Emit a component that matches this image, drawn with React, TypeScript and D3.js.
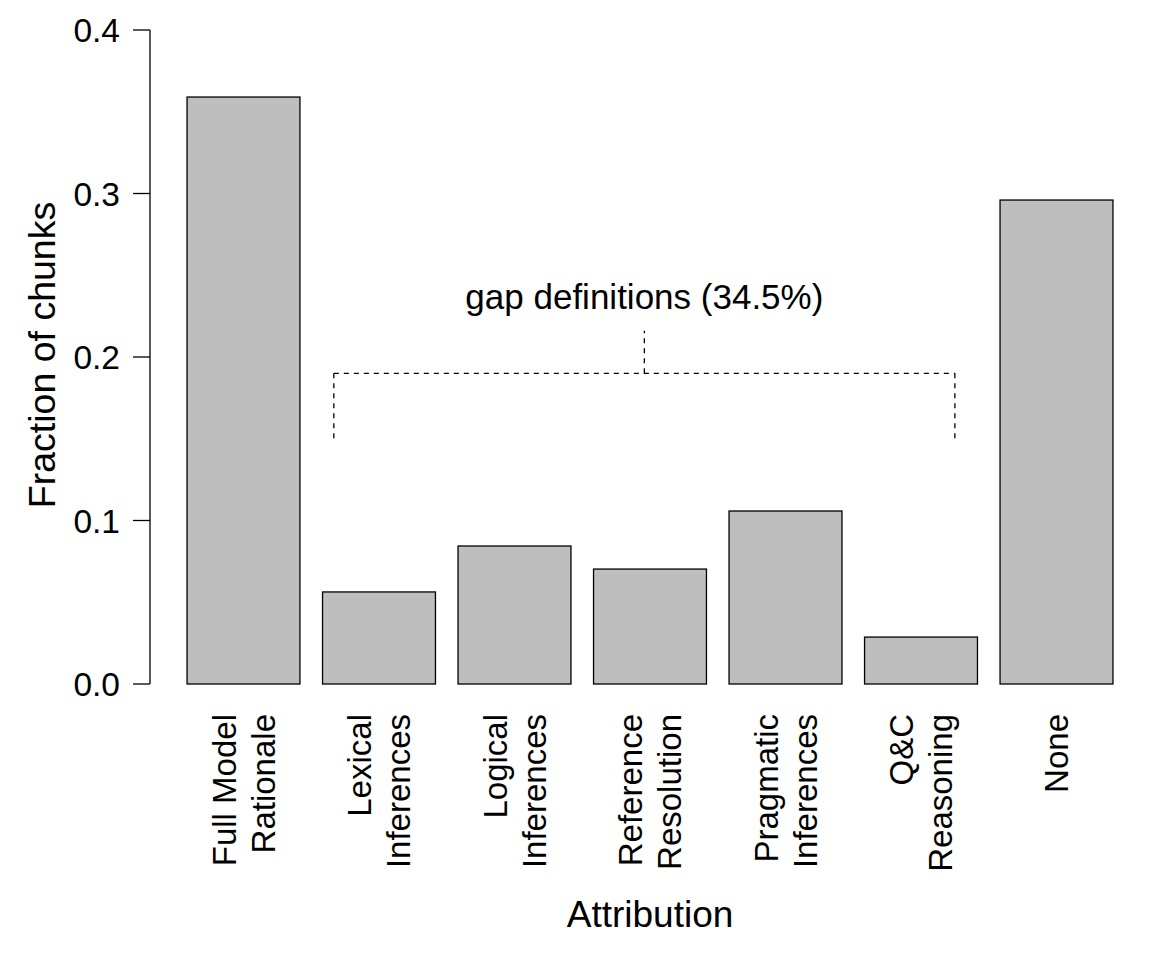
import React from "react";
import * as d3 from "d3";

const categories: string[][] = [
  ["Full Model", "Rationale"],
  ["Lexical", "Inferences"],
  ["Logical", "Inferences"],
  ["Reference", "Resolution"],
  ["Pragmatic", "Inferences"],
  ["Q&C", "Reasoning"],
  ["None"],
];
const values: number[] = [0.359, 0.0563, 0.0844, 0.0703, 0.1058, 0.0287, 0.296];
const yTicks: number[] = [0, 0.1, 0.2, 0.3, 0.4];
const yTickLabels: string[] = ["0.0", "0.1", "0.2", "0.3", "0.4"];
const gapLabel = "gap definitions (34.5%)";
// bracket in data units (bar-axis units / y values)
const bracketX1 = 1.5;
const bracketX2 = 7.0;
const bracketY = 0.19;
const bracketEndY = 0.149;
const bracketTopY = 0.216;
const gapLabelY = 0.2295;

const W = 1150;
const H = 955;
const FONT = "'Liberation Sans', Arial, Helvetica, sans-serif";

export default function App() {
  const n = values.length;
  const space = 0.2;
  const lefts = values.map((_, i) => space + i * (1 + space));
  const xMin = lefts[0];
  const xMax = lefts[n - 1] + 1;
  const ext = (xMax - xMin) * 0.04;
  const x = d3.scaleLinear().domain([xMin - ext, xMax + ext]).range([150, 1150]);
  const y = d3.scaleLinear().domain([0, 0.4]).range([684, 30]);
  const base = y(0);
  const centers = lefts.map((l) => l + 0.5);
  const bx1 = x(bracketX1);
  const bx2 = x(bracketX2);
  const bxMid = (bx1 + bx2) / 2;
  const lineH = 39;

  return (
    <svg width={W} height={H} style={{ display: "block", position: "absolute", left: 0, top: 0 }} fontFamily={FONT}>
      <rect x={0} y={0} width={W} height={H} fill="#fff" />
      {values.map((v, i) => (
        <rect
          key={i}
          x={x(lefts[i])}
          y={y(v)}
          width={x(lefts[i] + 1) - x(lefts[i])}
          height={base - y(v)}
          fill="#bebebe"
          stroke="#000"
          strokeWidth={1.3}
        />
      ))}
      {/* y axis */}
      <line x1={150} x2={150} y1={y(0.4)} y2={y(0)} stroke="#000" strokeWidth={1.3} />
      {yTicks.map((t, i) => (
        <g key={i}>
          <line x1={133} x2={150} y1={y(t)} y2={y(t)} stroke="#000" strokeWidth={1.3} />
          <text x={120} y={y(t)} dy="0.36em" textAnchor="end" fontSize={33.5}>
            {yTickLabels[i]}
          </text>
        </g>
      ))}
      {/* category labels */}
      {categories.map((lines, i) => {
        const cx = x(centers[i]);
        return lines.map((ln, j) => {
          const off = (j - (lines.length - 1) / 2) * lineH;
          return (
            <text
              key={i + "-" + j}
              transform={`translate(${cx + off},714) rotate(-90)`}
              dy="0.36em"
              textAnchor="end"
              fontSize={33}
            >
              {ln}
            </text>
          );
        });
      })}
      {/* axis titles */}
      <text x={650} y={927} textAnchor="middle" fontSize={37}>
        Attribution
      </text>
      <text transform={`translate(55,355) rotate(-90)`} textAnchor="middle" fontSize={37.5}>
        Fraction of chunks
      </text>
      {/* bracket */}
      <g stroke="#000" strokeWidth={1.3} strokeDasharray="5,5" fill="none">
        <line x1={bx1} x2={bx2} y1={y(bracketY)} y2={y(bracketY)} />
        <line x1={bx1} x2={bx1} y1={y(bracketY)} y2={y(bracketEndY)} />
        <line x1={bx2} x2={bx2} y1={y(bracketY)} y2={y(bracketEndY)} />
        <line x1={bxMid} x2={bxMid} y1={y(bracketY)} y2={y(bracketTopY)} />
      </g>
      <text x={bxMid} y={y(gapLabelY)} textAnchor="middle" fontSize={35}>
        {gapLabel}
      </text>
    </svg>
  );
}
